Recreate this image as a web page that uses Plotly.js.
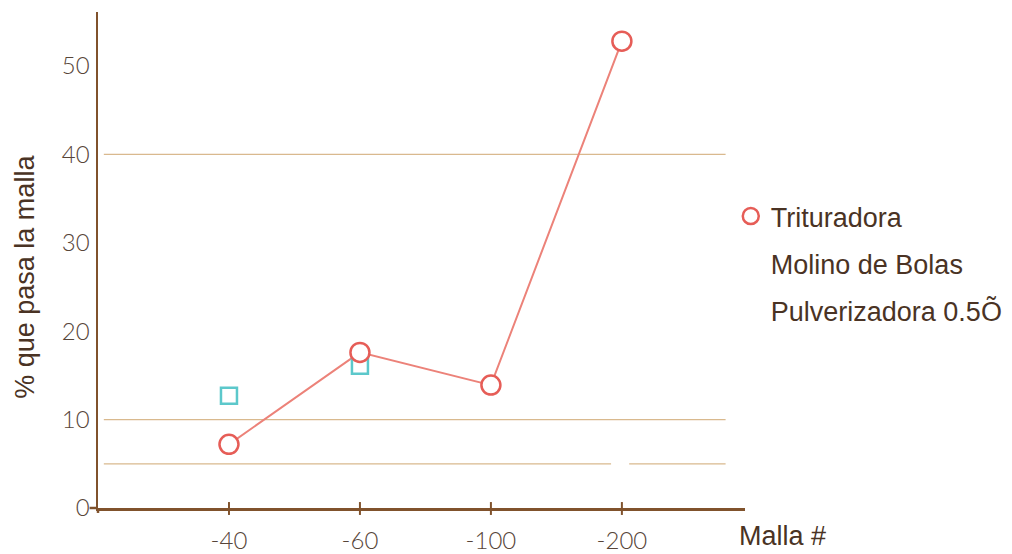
<!DOCTYPE html>
<html>
<head>
<meta charset="utf-8">
<script src="https://cdn.plot.ly/plotly-3.0.1.min.js"></script>
<style>html,body{margin:0;padding:0;background:#fff;}#chart{width:1012px;height:554px;}</style>
</head>
<body>
<div id="chart"></div>
<script>
const categories = ['-40', '-60', '-100', '-200'];
const catIndex = [0, 1, 2, 3];
const trituradora = [7.2, 17.6, 13.9, 52.8];
const molino = [12.7, 16.1, null, null];
const pulverizadora = [null, null, null, null];
const seriesNames = ['Trituradora', 'Molino de Bolas', 'Pulverizadora 0.5Õ'];
const gridValues = [40, 10, 5];
const yTicks = [0, 10, 20, 30, 40, 50];

const red = '#e65d57';
const traces = [
  {
    x: catIndex, y: trituradora, name: seriesNames[0], mode: 'lines', showlegend: false,
    line: {color: '#ec8279', width: 2}, cliponaxis: false
  },
  {
    x: catIndex, y: molino, name: seriesNames[1], mode: 'markers', showlegend: false,
    marker: {symbol: 'square', size: 16, color: 'rgba(255,255,255,0)', line: {width: 2.5, color: '#5cc8cb'}},
    cliponaxis: false
  },
  {
    x: catIndex, y: trituradora, name: seriesNames[0], mode: 'markers', legendgroup: 'a',
    marker: {symbol: 'circle', size: 19, color: '#ffffff', line: {width: 2.5, color: red}},
    cliponaxis: false
  },
  {
    x: [null], y: [null], name: seriesNames[1], mode: 'markers', legendgroup: 'b',
    marker: {symbol: 'square', size: 1, color: 'rgba(0,0,0,0)'}
  },
  {
    x: catIndex, y: pulverizadora, name: seriesNames[2], mode: 'markers', legendgroup: 'c',
    marker: {symbol: 'circle', size: 1, color: 'rgba(0,0,0,0)'}
  }
];

const gridColor = '#d9b98e';
const shapes = [];
gridValues.forEach(v => {
  if (v === 5) {
    shapes.push({type: 'line', xref: 'paper', yref: 'y', x0: 0.009, x1: 0.793, y0: v, y1: v, line: {color: gridColor, width: 1.3}, layer: 'below'});
    shapes.push({type: 'line', xref: 'paper', yref: 'y', x0: 0.821, x1: 0.97, y0: v, y1: v, line: {color: gridColor, width: 1.3}, layer: 'below'});
  } else {
    shapes.push({type: 'line', xref: 'paper', yref: 'y', x0: 0.009, x1: 0.97, y0: v, y1: v, line: {color: gridColor, width: 1.3}, layer: 'below'});
  }
});
catIndex.forEach(i => {
  shapes.push({type: 'line', xref: 'x', yref: 'paper', x0: i, x1: i, y0: -0.014, y1: 0.012, line: {color: '#80522c', width: 2}});
});
shapes.push({type: 'line', xref: 'paper', yref: 'paper', x0: -0.013, x1: 0, y0: 0, y1: 0, line: {color: '#80522c', width: 2.5}});
shapes.push({type: 'line', xref: 'paper', yref: 'paper', x0: 0, x1: 0, y0: -0.01, y1: 0, line: {color: '#80522c', width: 2.5}});

const txtFont = 'Liberation Sans, Arial, sans-serif';
const tickFont = {family: 'Lato, sans-serif', weight: 300, size: 24, color: '#574539'};

const layout = {
  width: 1012, height: 554,
  margin: {l: 98, r: 267, t: 12, b: 46, autoexpand: false},
  paper_bgcolor: '#ffffff', plot_bgcolor: '#ffffff',
  showlegend: true,
  legend: {
    x: 0.978, y: 0.637, xanchor: 'left', yanchor: 'top',
    font: {family: txtFont, size: 27, color: '#4a3324'},
    traceorder: 'grouped', tracegroupgap: 9, itemwidth: 30, bgcolor: 'rgba(0,0,0,0)'
  },
  xaxis: {
    type: 'linear', range: [-1, 3.94], tickvals: catIndex, ticktext: categories,
    showgrid: false, zeroline: false, showline: true, linecolor: '#80522c', linewidth: 2.5,
    ticks: '', ticklabelstandoff: 10, tickfont: tickFont
  },
  yaxis: {
    range: [0, 56.1], tickvals: yTicks, showgrid: false, zeroline: false,
    showline: true, linecolor: '#80522c', linewidth: 2.5, ticks: '', ticklabelstandoff: 1,
    tickfont: tickFont
  },
  shapes: shapes,
  annotations: [
    {
      text: 'Malla #', xref: 'paper', yref: 'paper', x: 0.988, y: -0.022, xanchor: 'left', yanchor: 'top',
      showarrow: false, font: {family: txtFont, size: 27, color: '#4a3324'}
    },
    {
      text: '% que pasa la malla', xref: 'paper', yref: 'paper', x: -0.113, y: 0.466,
      xanchor: 'center', yanchor: 'middle', textangle: -90,
      showarrow: false, font: {family: txtFont, size: 27, color: '#4a3324'}
    }
  ]
};

Plotly.newPlot('chart', traces, layout, {displayModeBar: false, staticPlot: true});
</script>
</body>
</html>
